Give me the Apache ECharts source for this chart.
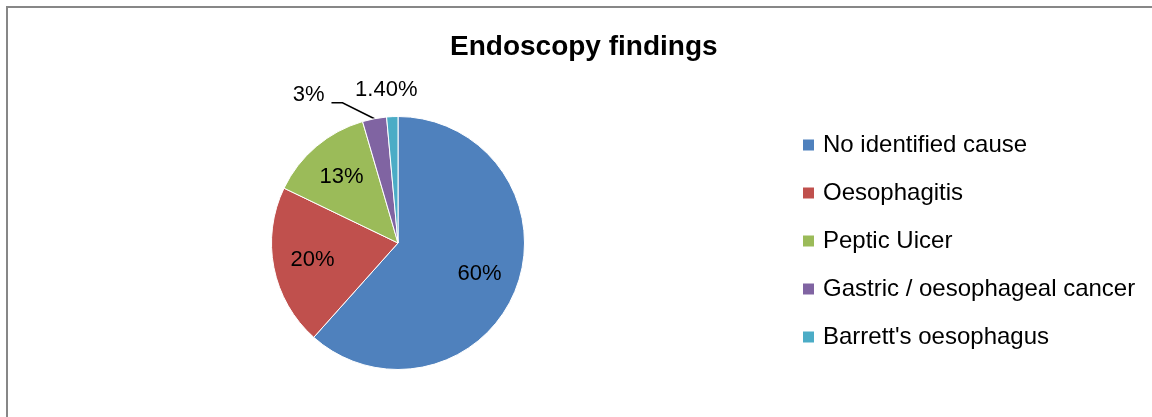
<!DOCTYPE html>
<html>
<head>
<meta charset="utf-8">
<script src="https://cdn.jsdelivr.net/npm/echarts@6/dist/echarts.min.js"></script>
<style>
html,body{margin:0;padding:0;background:#fff;overflow:hidden;}
#frame{position:absolute;left:6px;top:6px;width:1200px;height:500px;border-left:2px solid #878787;border-top:2px solid #878787;}
#chart{position:absolute;left:0;top:0;width:1152px;height:417px;}
</style>
</head>
<body>
<div id="frame"></div>
<div id="chart"></div>
<script>
var titleText = "Endoscopy findings";
var categories = ["No identified cause", "Oesophagitis", "Peptic Uicer", "Gastric / oesophageal cancer", "Barrett's oesophagus"];
var values = [60, 20, 13, 3, 1.4];
var valueLabels = ["60%", "20%", "13%", "3%", "1.40%"];
var colors = ["#4F81BD", "#C0504D", "#9BBB59", "#8064A2", "#4BACC6"];

var font = "Liberation Sans";
var center = [398, 243];
var R = 126.5;

var mainData = categories.map(function (c, i) {
  var d = { name: c, value: values[i], itemStyle: { color: colors[i] } };
  if (i < 3) d.label = { show: false };
  else d.label = { show: true, position: 'outside' };
  if (i === 4) d.labelLine = { show: false };
  return d;
});
var overlayData = categories.map(function (c, i) {
  return { name: c, value: values[i], label: { show: i < 3 } };
});

var chart = echarts.init(document.getElementById('chart'), null, { renderer: 'canvas' });
chart.setOption({
  animation: false,
  color: colors,
  title: {
    text: titleText, left: 450, top: 33, padding: 0,
    textStyle: { fontFamily: font, fontWeight: 'bold', fontSize: 28, color: '#000' }
  },
  legend: {
    orient: 'vertical', left: 801, top: 133, padding: 0,
    itemWidth: 13, itemHeight: 13, itemGap: 24,
    icon: 'rect',
    data: categories,
    textStyle: { fontFamily: font, fontSize: 24, color: '#000', lineHeight: 24, padding: [0, 0, 0, 3] },
    selectedMode: false
  },
  series: [
    {
      type: 'pie', center: center, radius: [0, R],
      startAngle: 90, clockwise: true, silent: true,
      itemStyle: { borderColor: '#fff', borderWidth: 1 },
      label: { fontFamily: font, fontSize: 22, color: '#000',
        formatter: function (p) { return valueLabels[p.dataIndex]; } },
      labelLine: { lineStyle: { color: '#000', width: 1.5 }, smooth: false },
      labelLayout: function (p) {
        if (p.dataIndex === 3) {
          var s = p.labelLinePoints[0];
          return {
            x: s[0] - 50, y: s[1] - 24, align: 'right', verticalAlign: 'middle',
            labelLinePoints: [[s[0], s[1]], [s[0] - 32, s[1] - 16], [s[0] - 43, s[1] - 16]]
          };
        }
        if (p.dataIndex === 4) {
          return { x: p.rect.x + p.rect.width / 2 - 6, y: p.rect.y - 26, align: 'center', verticalAlign: 'middle' };
        }
      },
      data: mainData
    },
    {
      type: 'pie', center: center, radius: [42, R],
      startAngle: 90, clockwise: true, silent: true,
      itemStyle: { color: 'rgba(0,0,0,0)' },
      label: { position: 'inside', fontFamily: font, fontSize: 22, color: '#000',
        formatter: function (p) { return valueLabels[p.dataIndex]; } },
      labelLine: { show: false },
      data: overlayData
    }
  ]
});
</script>
</body>
</html>
